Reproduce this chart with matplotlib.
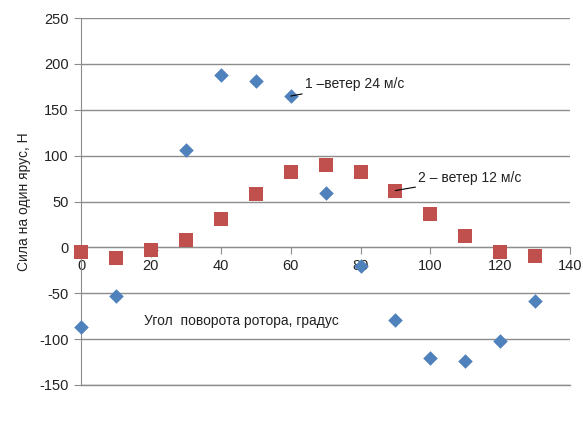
import matplotlib
matplotlib.use("Agg")
import matplotlib.pyplot as plt

# data
angle = [0, 10, 20, 30, 40, 50, 60, 70, 80, 90, 100, 110, 120, 130]
force_24 = [-87, -53, -3, 106, 188, 181, 165, 59, -20, -79, -121, -124, -102, -58]
force_12 = [-5, -12, -3, 8, 31, 58, 82, 90, 82, 62, 36, 12, -5, -9]

plt.rcParams['font.family'] = ['Liberation Sans', 'DejaVu Sans']
plt.rcParams['axes.unicode_minus'] = False

fig = plt.figure(figsize=(5.83, 4.42), dpi=100)
ax = fig.add_axes([0.139, 0.129, 0.839, 0.830])

ax.scatter(angle, force_24, marker='D', s=55, color='#4F81BD', zorder=3,
           linewidths=0, clip_on=False)
ax.scatter(angle, force_12, marker='s', s=105, color='#C0504D', zorder=4,
           linewidths=0, clip_on=False)

ax.set_xlim(0, 140)
ax.set_ylim(-150, 250)
ax.set_xticks(range(0, 141, 20))
ax.set_yticks(range(-150, 251, 50))

ax.grid(axis='y', color='#8c8c8c', linewidth=1)
ax.axhline(-150, color='#8c8c8c', linewidth=1, clip_on=False, zorder=1)
ax.set_axisbelow(True)
for s in ['top', 'right']:
    ax.spines[s].set_visible(False)
ax.spines['bottom'].set_position(('data', 0))
ax.spines['bottom'].set_color('#8c8c8c')
ax.spines['left'].set_color('#8c8c8c')
ax.tick_params(axis='both', colors='#8c8c8c', labelcolor='#222222', labelsize=10.5, length=5)
ax.tick_params(axis='y', pad=4)

ax.set_ylabel('Сила на один ярус, Н', fontsize=10, color='#222222', labelpad=6)
ax.text(18, -80, 'Угол  поворота ротора, градус', fontsize=10, color='#222222', va='center')

ax.annotate('1 –ветер 24 м/с', xy=(60, 165), xytext=(64, 178), fontsize=10,
            color='#222222', va='center', zorder=6,
            arrowprops=dict(arrowstyle='-', color='black', lw=0.8, shrinkA=0, shrinkB=0))
ax.annotate('2 – ветер 12 м/с', xy=(90, 62), xytext=(96.5, 76), fontsize=10,
            color='#222222', va='center', zorder=6,
            arrowprops=dict(arrowstyle='-', color='black', lw=0.8, shrinkA=0, shrinkB=0))

fig.savefig('out.png', dpi=100)
